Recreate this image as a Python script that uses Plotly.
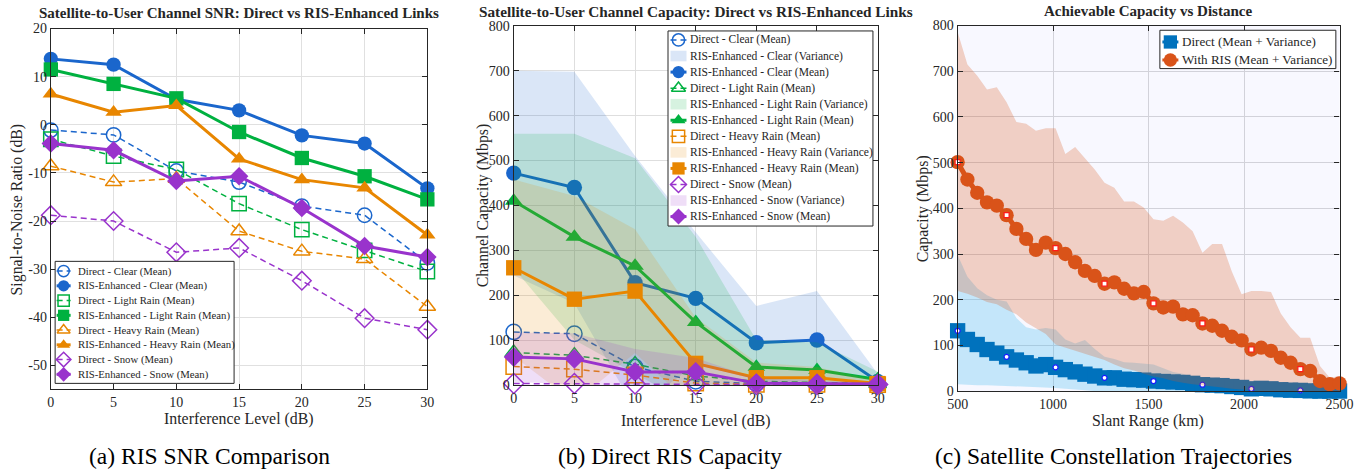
import numpy as np
import plotly.graph_objects as go

# Layout is specified in screen pixels of the final 1372 x 474 view.
# The page is shown with the browser's default 8 px body margin and a slight
# viewport scale, so screen pixels are converted to figure pixels below.
W, H = 1372, 474
BODY_MARGIN = 8
SX, SY = 0.982, 0.968
FS = 1 / 0.978          # font / marker compensation for the viewport scale
FONT = "Liberation Serif"
INK = "#262626"

# ---------------- (a) SNR vs interference level ----------------
interference_db = [0, 5, 10, 15, 20, 25, 30]

snr_direct_clear = [-1.1, -2.1, -9.6, -11.9, -16.9, -18.8, -28.7]
snr_ris_clear = [13.7, 12.5, 5.3, 3.0, -2.2, -3.9, -13.2]
snr_direct_light = [-3.0, -6.5, -9.3, -16.4, -21.8, -26.1, -30.5]
snr_ris_light = [11.5, 8.5, 5.5, -1.5, -6.9, -10.7, -15.5]
snr_direct_heavy = [-8.6, -11.9, -11.2, -22.1, -26.3, -27.9, -37.8]
snr_ris_heavy = [6.4, 2.6, 4.0, -7.1, -11.4, -13.1, -22.9]
snr_direct_snow = [-18.8, -20.0, -26.5, -25.6, -32.4, -40.2, -42.6]
snr_ris_snow = [-3.9, -5.3, -11.7, -10.7, -17.3, -25.2, -27.5]

# ---------------- (b) capacity vs interference level ----------------
cap_direct_clear = [118, 114, 40, 8, 3, 2, 1]
cap_ris_clear = [472, 440, 228, 193, 94, 100, 8]
cap_ris_clear_spread = [228, 258, 282, 147, 82, 109, 17]
cap_direct_light = [72, 66, 46, 20, 8, 5, 3]
cap_ris_light = [410, 330, 265, 140, 40, 33, 12]
cap_ris_light_spread = [150, 230, 240, 190, 60, 62, 18]
cap_direct_heavy = [41, 35, 22, 4, 1, 1, 0.5]
cap_ris_heavy = [261, 191, 209, 48, 16, 16, 3]
cap_ris_heavy_spread = [197, 230, 138, 102, 34, 24, 7]
cap_direct_snow = [3, 3, 2, 1, 1, 1, 1]
cap_ris_snow = [62, 58, 29, 29, 4, 3, 2]
cap_ris_snow_spread = [55, 57, 51, 31, 11, 7, 3]

# ---------------- (c) capacity vs slant range ----------------
slant_km = np.linspace(500, 2500, 40)
direct_mean = [132, 113, 102, 91, 83, 75, 68, 62, 55, 58, 52, 47, 42, 37, 33, 29, 29, 26, 25, 24,
               22, 21, 20, 19, 17, 14, 13, 12, 10, 8, 5, 6, 5, 3, 2, 1.5, 0.5, 0, 0, 0]
direct_hi = [298, 250, 225, 210, 200, 196, 160, 140, 135, 138, 135, 113, 104, 112, 92, 75, 70, 63, 62, 60,
             58, 50, 42, 38, 30, 25, 22, 20, 18, 16, 14, 12, 11, 10, 9, 8, 7, 6, 5, 5]
direct_lo = [15, 14, 13, 13, 12, 12, 11, 10, 9, 8, 7, 5, 3, 2, 0, 0, 0, 0, 0, 0,
             0, 0, 0, 0, 0, 0, 0, 0, 0, 0, 0, 0, 0, 0, 0, 0, 0, 0, 0, 0]
ris_mean = [501, 463, 434, 413, 406, 385, 355, 333, 309, 325, 313, 300, 282, 263, 252, 235, 238, 224, 214, 217,
            192, 183, 185, 168, 166, 148, 143, 132, 119, 111, 91, 95, 88, 73, 62, 48, 44, 22, 15, 17]
ris_hi = [786, 715, 690, 660, 665, 632, 589, 585, 570, 575, 575, 519, 534, 510, 485, 456, 445, 415, 415, 402,
          376, 373, 384, 369, 350, 303, 322, 322, 262, 212, 219, 219, 217, 170, 140, 117, 117, 55, 29, 33]
ris_lo = [219, 213, 205, 195, 190, 178, 168, 150, 138, 125, 102, 95, 88, 82, 75, 68, 58, 50, 45, 38,
          32, 28, 22, 18, 15, 12, 10, 8, 5, 3, 2, 0, 0, 0, 0, 0, 0, 0, 0, 0]
highlight_every = 5

# ---------------- styling ----------------
BLUE, GREEN, ORANGE, PURPLE = "#1a66cc", "#00b140", "#e88600", "#9933cc"
C_DIR, C_RIS = "#0072bd", "#d95319"
BAND_ALPHA = 0.16
DASH = "6px,4px"


def rgba(hex_color, a):
    h = hex_color.lstrip("#")
    r, g, b = int(h[0:2], 16), int(h[2:4], 16), int(h[4:6], 16)
    return f"rgba({r},{g},{b},{a})"


# screen pixel -> paper fraction
def px_x(p):
    return (p / SX - BODY_MARGIN) / W


def px_y(p):
    return 1 - (p / SY - BODY_MARGIN) / H


def fs(v):
    return round(v * FS, 2)


fig = go.Figure()

# ---- (a) traces
snr_sets = [
    ("Clear", BLUE, "circle", snr_direct_clear, snr_ris_clear),
    ("Light Rain", GREEN, "square", snr_direct_light, snr_ris_light),
    ("Heavy Rain", ORANGE, "triangle-up", snr_direct_heavy, snr_ris_heavy),
    ("Snow", PURPLE, "diamond", snr_direct_snow, snr_ris_snow),
]
legend_a = []
for name, col, sym, d_vals, r_vals in snr_sets:
    d_line = dict(color=col, width=1.5, dash=DASH)
    d_mark = dict(symbol=sym + "-open", color=col, line=dict(width=1.5, color=col))
    r_line = dict(color=col, width=3)
    r_mark = dict(symbol=sym, color=col)
    fig.add_trace(go.Scatter(
        x=interference_db, y=d_vals, mode="lines+markers", line=d_line,
        marker=dict(d_mark, size=fs(14)), cliponaxis=False, showlegend=False, xaxis="x", yaxis="y"))
    fig.add_trace(go.Scatter(
        x=interference_db, y=r_vals, mode="lines+markers", line=r_line,
        marker=dict(r_mark, size=fs(14)), cliponaxis=False, showlegend=False, xaxis="x", yaxis="y"))
    legend_a.append(("line", f"Direct - {name} (Mean)", d_line, d_mark))
    legend_a.append(("line", f"RIS-Enhanced - {name} (Mean)", r_line, r_mark))

# ---- (b) traces
cap_sets = [
    ("Clear", BLUE, "circle", cap_direct_clear, cap_ris_clear, cap_ris_clear_spread),
    ("Light Rain", GREEN, "triangle-up", cap_direct_light, cap_ris_light, cap_ris_light_spread),
    ("Heavy Rain", ORANGE, "square", cap_direct_heavy, cap_ris_heavy, cap_ris_heavy_spread),
    ("Snow", PURPLE, "diamond", cap_direct_snow, cap_ris_snow, cap_ris_snow_spread),
]
legend_b = []
for name, col, sym, d_vals, r_vals, spread in cap_sets:
    upper = [m + s for m, s in zip(r_vals, spread)]
    lower = [m - s for m, s in zip(r_vals, spread)]
    d_line = dict(color=col, width=1.5, dash=DASH)
    d_mark = dict(symbol=sym + "-open", color=col, line=dict(width=1.5, color=col))
    r_line = dict(color=col, width=3)
    r_mark = dict(symbol=sym, color=col)
    fig.add_trace(go.Scatter(
        x=interference_db, y=d_vals, mode="lines+markers", line=d_line,
        marker=dict(d_mark, size=fs(15)), cliponaxis=False, showlegend=False, xaxis="x2", yaxis="y2"))
    fig.add_trace(go.Scatter(
        x=interference_db + interference_db[::-1], y=upper + lower[::-1],
        mode="lines", fill="toself", fillcolor=rgba(col, BAND_ALPHA), line=dict(width=0, color=rgba(col, 0)),
        hoverinfo="skip", showlegend=False, xaxis="x2", yaxis="y2"))
    fig.add_trace(go.Scatter(
        x=interference_db, y=r_vals, mode="lines+markers", line=r_line,
        marker=dict(r_mark, size=fs(15)), cliponaxis=False, showlegend=False, xaxis="x2", yaxis="y2"))
    legend_b.append(("line", f"Direct - {name} (Mean)", d_line, d_mark))
    legend_b.append(("patch", f"RIS-Enhanced - {name} (Variance)", rgba(col, BAND_ALPHA), None))
    legend_b.append(("line", f"RIS-Enhanced - {name} (Mean)", r_line, r_mark))

# ---- (c) traces
xs = list(slant_km)
hl = slice(0, None, highlight_every)
legend_c = []
for label, col, band_col, band_a, mean, hi, lo, sym, msize, hl_sym, hl_edge in [
    ("Direct (Mean + Variance)", C_DIR, "#4dbeee", 0.3, direct_mean, direct_hi, direct_lo,
     "square", 15, "circle", "#1a1aff"),
    ("With RIS (Mean + Variance)", C_RIS, C_RIS, 0.25, ris_mean, ris_hi, ris_lo,
     "circle", 14, "square", "#ff1a1a"),
]:
    fig.add_trace(go.Scatter(
        x=xs + xs[::-1], y=list(hi) + list(lo)[::-1], mode="lines", fill="toself",
        fillcolor=rgba(band_col, band_a), line=dict(width=0, color=rgba(band_col, 0)),
        showlegend=False, hoverinfo="skip", xaxis="x3", yaxis="y3"))
    m_line = dict(color=col, width=5)
    m_mark = dict(symbol=sym, color=col)
    fig.add_trace(go.Scatter(
        x=xs, y=mean, mode="lines+markers", line=m_line, marker=dict(m_mark, size=fs(msize)),
        cliponaxis=False, showlegend=False, xaxis="x3", yaxis="y3"))
    fig.add_trace(go.Scatter(
        x=xs[hl], y=mean[hl], mode="markers", showlegend=False,
        marker=dict(symbol=hl_sym, size=5, color="white", line=dict(width=1.2, color=hl_edge)),
        cliponaxis=False, xaxis="x3", yaxis="y3"))
    legend_c.append(("line", label, dict(color=col, width=3), m_mark))

# ---------------- axes ----------------
axis_common = dict(
    showline=True, linecolor=INK, linewidth=1.2, mirror="ticks",
    ticks="inside", ticklen=5, tickcolor=INK, tickwidth=1,
    tickfont=dict(family=FONT, size=fs(13.7), color=INK),
    showgrid=True, gridwidth=1, zeroline=False,
)

snr_ticks = list(range(-50, 21, 10))
fig.update_layout(
    xaxis=dict(axis_common, domain=[px_x(47.7), px_x(424.3)], range=[0, 30], anchor="y",
               tickvals=interference_db, gridcolor="#e0e0e0"),
    yaxis=dict(axis_common, domain=[px_y(390), px_y(29.3)], range=[-55, 20], anchor="x",
               tickvals=snr_ticks, ticktext=[str(v) for v in snr_ticks], gridcolor="#e0e0e0"),
    xaxis2=dict(axis_common, domain=[px_x(510.7), px_x(874.7)], range=[0, 30], anchor="y2",
                tickvals=interference_db, gridcolor="#dedede"),
    yaxis2=dict(axis_common, domain=[px_y(385.5), px_y(26.7)], range=[0, 800], anchor="x2",
                tickvals=list(range(0, 801, 100)), gridcolor="#dedede"),
    xaxis3=dict(axis_common, domain=[px_x(954.7), px_x(1336.7)], range=[500, 2500], anchor="y3",
                tickvals=[500, 1000, 1500, 2000, 2500], gridcolor="#d2d2da"),
    yaxis3=dict(axis_common, domain=[px_y(391.7), px_y(26.3)], range=[0, 800], anchor="x3",
                tickvals=list(range(0, 801, 100)), gridcolor="#d2d2da"),
    # full-figure frame expressed in screen pixels, used to lay out the legend boxes
    xaxis4=dict(domain=[0, 1], range=[SX * BODY_MARGIN, SX * (W + BODY_MARGIN)],
                visible=False, fixedrange=True, anchor="y4"),
    yaxis4=dict(domain=[0, 1], range=[SY * (H + BODY_MARGIN), SY * BODY_MARGIN],
                visible=False, fixedrange=True, anchor="x4"),
)

# panel (c) has a tinted plotting area
fig.add_shape(type="rect", xref="x3 domain", yref="y3 domain", x0=0, x1=1, y0=0, y1=1,
              fillcolor="#f8f8ff", line=dict(width=0), layer="below")

# ---------------- legend boxes ----------------
ann = []
PX = dict(xaxis="x4", yaxis="y4", showlegend=False, hoverinfo="skip", cliponaxis=False)


def draw_legend(entries, box, first_row, row_step, sample, text_x, font_size, marker_size):
    x0, y0, x1, y1 = box
    fig.add_trace(go.Scatter(x=[x0, x1, x1, x0, x0], y=[y0, y0, y1, y1, y0], mode="lines",
                             fill="toself", fillcolor="white", line=dict(color=INK, width=1), **PX))
    sx0, sx1 = sample
    for i, (kind, label, style, mark) in enumerate(entries):
        yy = first_row + i * row_step
        if kind == "patch":
            h = row_step * 0.66
            fig.add_trace(go.Scatter(x=[sx0, sx1, sx1, sx0, sx0],
                                     y=[yy - h / 2, yy - h / 2, yy + h / 2, yy + h / 2, yy - h / 2],
                                     mode="lines", fill="toself", fillcolor=style,
                                     line=dict(width=0, color="rgba(0,0,0,0)"), **PX))
        else:
            fig.add_trace(go.Scatter(x=[sx0, sx1], y=[yy, yy], mode="lines", line=style, **PX))
            fig.add_trace(go.Scatter(x=[(sx0 + sx1) / 2], y=[yy], mode="markers",
                                     marker=dict(mark, size=fs(marker_size)), **PX))
        ann.append(dict(x=text_x, y=yy, xref="x4", yref="y4", text=label, showarrow=False,
                        xanchor="left", yanchor="middle",
                        font=dict(family=FONT, size=fs(font_size), color=INK)))


draw_legend(legend_a, (52, 262, 231, 384), 271.7, 14.75, (53.5, 67.5), 72.5, 10.5, 11)
draw_legend(legend_b, (665, 31.7, 870, 226.7), 40.7, 16.05, (667.5, 683.5), 685, 11.3, 12)
draw_legend(legend_c, (1157, 31, 1333, 69.3), 42.7, 18, (1159.5, 1175.5), 1177.5, 12.8, 13)

# ---------------- titles, axis labels, captions ----------------


def text(x, y, s, size, bold=False, angle=0, color=INK):
    ann.append(dict(x=px_x(x), y=px_y(y), xref="paper", yref="paper", showarrow=False,
                    text=f"<b>{s}</b>" if bold else s, textangle=angle,
                    font=dict(family=FONT, size=fs(size), color=color),
                    xanchor="center", yanchor="middle"))


text(236, 14, "Satellite-to-User Channel SNR: Direct vs RIS-Enhanced Links", 14.7, bold=True)
text(693, 12.5, "Satellite-to-User Channel Capacity: Direct vs RIS-Enhanced Links", 14.9, bold=True)
text(1145, 12, "Achievable Capacity vs Distance", 14.7, bold=True)

text(236, 420, "Interference Level (dB)", 15.5)
text(693, 422, "Interference Level (dB)", 15.5)
text(1145, 422, "Slant Range (km)", 15.5)
text(14, 210, "Signal-to-Noise Ratio (dB)", 15.5, angle=-90)
text(480, 206, "Channel Capacity (Mbps)", 15.5, angle=-90)
text(920, 209, "Capacity (Mbps)", 15.5, angle=-90)

text(206, 457, "(a) RIS SNR Comparison", 23, color="black")
text(667, 457, "(b) Direct RIS Capacity", 23, color="black")
text(1111, 457, "(c) Satellite Constellation Trajectories", 23, color="black")

fig.update_layout(
    annotations=ann,
    width=W, height=H, margin=dict(l=0, r=0, t=0, b=0),
    paper_bgcolor="white", plot_bgcolor="rgba(0,0,0,0)",
    font=dict(family=FONT, color=INK),
    showlegend=False,
)

fig.write_html("out.html")
